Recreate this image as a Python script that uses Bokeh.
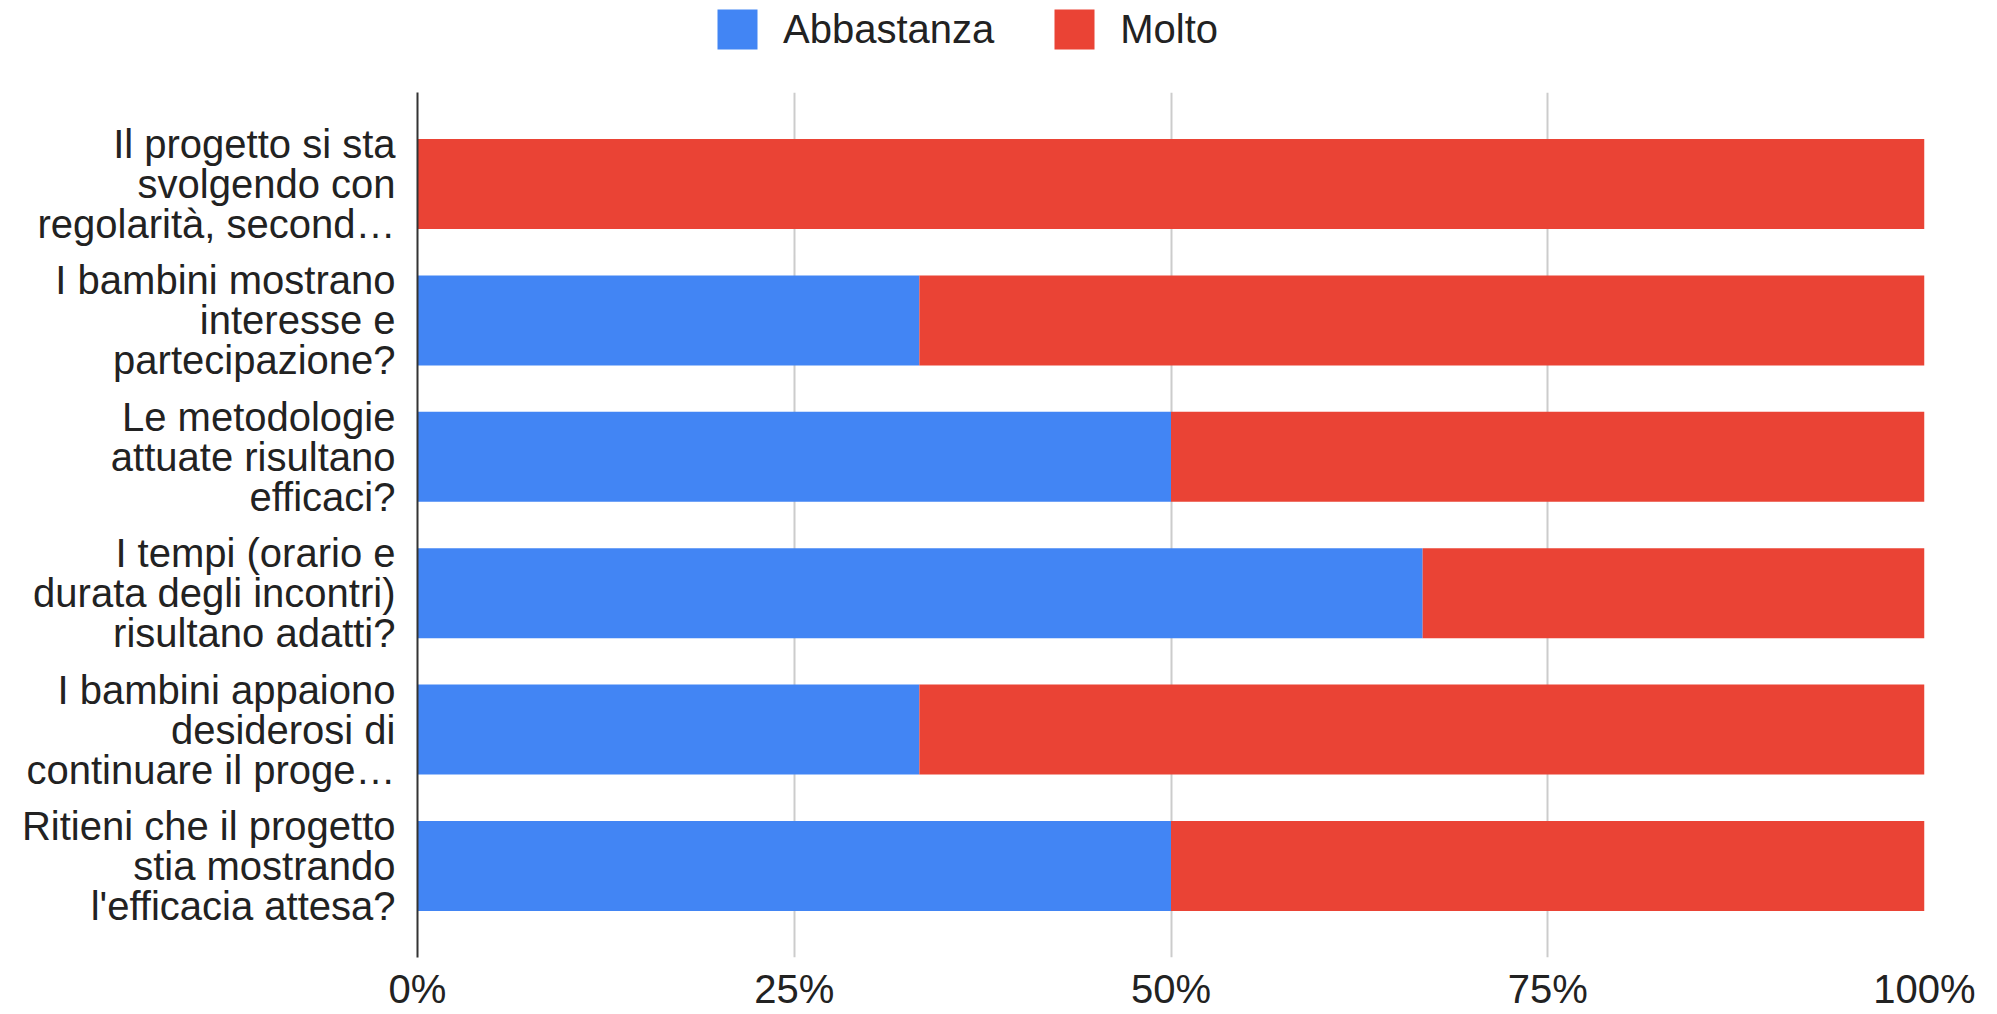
from bokeh.plotting import figure
from bokeh.layouts import column
from bokeh.models import (FactorRange, Range1d, Legend, LegendItem, ColumnDataSource,
                          FixedTicker, PrintfTickFormatter)
from bokeh.embed import file_html
from bokeh.resources import INLINE

questions = [
    "Il progetto si sta\nsvolgendo con\nregolarità, second…",
    "I bambini mostrano\ninteresse e\npartecipazione?",
    "Le metodologie\nattuate risultano\nefficaci?",
    "I tempi (orario e\ndurata degli incontri)\nrisultano adatti?",
    "I bambini appaiono\ndesiderosi di\ncontinuare il proge…",
    "Ritieni che il progetto\nstia mostrando\nl'efficacia attesa?",
]
series_names = ["Abbastanza", "Molto"]
abbastanza = [0.0, 33.3, 50.0, 66.7, 33.3, 50.0]
molto = [100.0, 66.7, 50.0, 33.3, 66.7, 50.0]
colors = ["#4285F4", "#EA4335"]
x_ticks = [0, 25, 50, 75, 100]

FONT = "Liberation Sans"
FS = "40px"
W = 1997
TOP_H = 92
MAIN_H = 1014 - TOP_H

source = ColumnDataSource(dict(q=questions, Abbastanza=abbastanza, Molto=molto))

# ---------- main chart ----------
p = figure(width=W, height=MAIN_H, output_backend="svg", toolbar_location=None,
           y_range=FactorRange(factors=list(reversed(questions)), range_padding=0.057),
           x_range=Range1d(0, 100),
           min_border_left=417, min_border_right=73, min_border_top=0, min_border_bottom=57)

renderers = p.hbar_stack(series_names, y="q", height=0.66, color=colors, line_color=None,
                         source=source)

p.outline_line_color = None
p.background_fill_color = "white"
p.border_fill_color = "white"

p.ygrid.grid_line_color = None
p.xgrid.grid_line_color = "#cccccc"
p.xgrid.grid_line_width = 2
p.xgrid.ticker = FixedTicker(ticks=x_ticks)

p.xaxis.ticker = FixedTicker(ticks=x_ticks)
p.xaxis.formatter = PrintfTickFormatter(format="%d%%")
p.xaxis.axis_line_color = None
p.xaxis.major_tick_line_color = None
p.xaxis.minor_tick_line_color = None
p.xaxis.major_tick_out = 0
p.xaxis.major_tick_in = 0
p.xaxis.major_label_standoff = 9
p.xaxis.major_label_text_font = FONT
p.xaxis.major_label_text_font_size = FS
p.xaxis.major_label_text_color = "#222222"

p.yaxis.axis_line_color = "#333333"
p.yaxis.axis_line_width = 2
p.yaxis.major_tick_line_color = None
p.yaxis.minor_tick_line_color = None
p.yaxis.major_tick_out = 0
p.yaxis.major_tick_in = 0
p.yaxis.major_label_standoff = 22
p.yaxis.major_label_text_font = FONT
p.yaxis.major_label_text_font_size = FS
p.yaxis.major_label_text_color = "#222222"
p.yaxis.major_label_text_line_height = 0.91

# ---------- legend strip (frame aligned with the chart's frame) ----------
lg = figure(width=W, height=TOP_H, output_backend="svg", toolbar_location=None,
            x_range=Range1d(0, 100),
            y_range=FactorRange(factors=list(reversed(questions))),
            x_axis_type=None, y_axis_type=None,
            min_border_left=0, min_border_right=0, min_border_top=0, min_border_bottom=0)
lg.outline_line_color = None
lg.grid.visible = False
lg.background_fill_color = "white"
lg.border_fill_color = "white"
proxy = lg.hbar_stack(series_names, y="q", height=0.66, color=colors, line_color=None,
                      source=source)
for r in proxy:
    r.visible = False

legend = Legend(items=[LegendItem(label=n, renderers=[r]) for n, r in zip(series_names, proxy)],
                orientation="horizontal", location=(295, 38),
                glyph_width=50, glyph_height=50, label_height=50, label_standoff=21,
                spacing=55, padding=0, margin=0,
                inactive_fill_alpha=0,
                label_text_font=FONT, label_text_font_size=FS, label_text_color="#222222",
                border_line_color=None, background_fill_alpha=0)
lg.add_layout(legend)

layout = column(lg, p, spacing=0)
open("out.html", "w").write(file_html(layout, INLINE))
